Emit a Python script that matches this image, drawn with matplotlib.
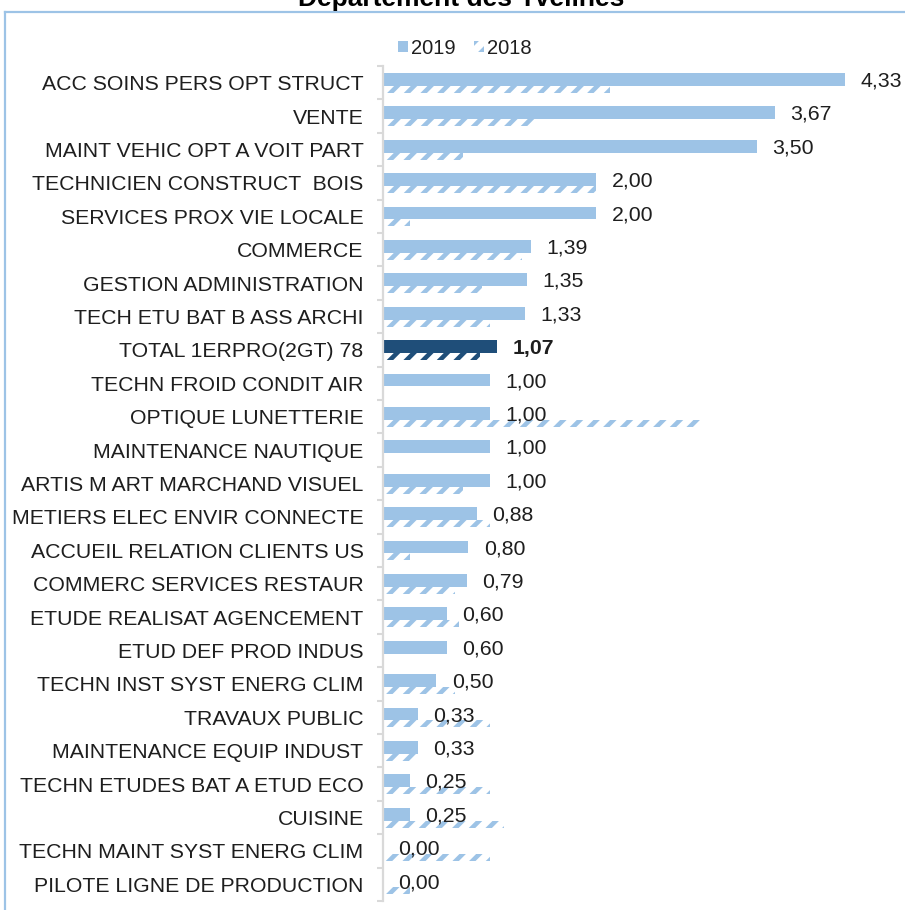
import matplotlib
matplotlib.use("Agg")
import matplotlib.pyplot as plt
from matplotlib.lines import Line2D
from matplotlib.patches import Patch
import numpy as np

plt.rcParams['font.family'] = ['Liberation Sans', 'DejaVu Sans']
plt.rcParams['hatch.linewidth'] = 3.3

# --- data ---
categories = [
    "ACC SOINS PERS OPT STRUCT", "VENTE", "MAINT VEHIC OPT A VOIT PART",
    "TECHNICIEN CONSTRUCT  BOIS", "SERVICES PROX VIE LOCALE", "COMMERCE",
    "GESTION ADMINISTRATION", "TECH ETU BAT B ASS ARCHI", "TOTAL 1ERPRO(2GT) 78",
    "TECHN FROID CONDIT AIR", "OPTIQUE LUNETTERIE", "MAINTENANCE NAUTIQUE",
    "ARTIS M ART MARCHAND VISUEL", "METIERS ELEC ENVIR CONNECTE",
    "ACCUEIL RELATION CLIENTS US", "COMMERC SERVICES RESTAUR",
    "ETUDE REALISAT AGENCEMENT", "ETUD DEF PROD INDUS",
    "TECHN INST SYST ENERG CLIM", "TRAVAUX PUBLIC", "MAINTENANCE EQUIP INDUST",
    "TECHN ETUDES BAT A ETUD ECO", "CUISINE", "TECHN MAINT SYST ENERG CLIM",
    "PILOTE LIGNE DE PRODUCTION",
]
values_2019 = [4.33, 3.67, 3.50, 2.00, 2.00, 1.39, 1.35, 1.33, 1.07, 1.00,
               1.00, 1.00, 1.00, 0.88, 0.80, 0.79, 0.60, 0.60, 0.50, 0.33,
               0.33, 0.25, 0.25, 0.00, 0.00]
values_2018 = [2.13, 1.42, 0.75, 2.00, 0.25, 1.30, 0.93, 1.00, 0.91, 0.00,
               3.00, 0.00, 0.75, 1.00, 0.25, 0.67, 0.71, 0.00, 0.67, 1.00,
               0.33, 1.00, 1.13, 1.00, 0.25]
total_label = "TOTAL 1ERPRO(2GT) 78"

light = '#9dc3e6'
navy = '#1f4e79'
txt = '#1e1e1e'
fs = 15.3

fig = plt.figure(figsize=(9.05, 9.10), dpi=100)
ax = fig.add_axes([383 / 905, 1 - 901 / 910, 1 - 383 / 905, (901 - 66) / 910])

y = np.arange(len(categories))
cols = [navy if c == total_label else light for c in categories]

ax.barh(y - 0.1, values_2019, height=0.38, color=cols, linewidth=0, zorder=2)
for yi, v, c in zip(y, values_2018, cols):
    if v > 0:
        ax.barh(yi + 0.2, v, height=0.21, facecolor='none', edgecolor=c,
                hatch='//', linewidth=0, zorder=2)

# value labels (2019)
for yi, v, c in zip(y, values_2019, categories):
    bold = c == total_label
    ax.annotate(f"{v:.2f}".replace('.', ','), xy=(v, yi - 0.05),
                xytext=(11, 0), textcoords='offset points',
                ha='left', va='center', fontsize=fs, color=txt,
                fontweight='bold' if bold else 'normal', zorder=3)

ax.set_xlim(0, 4.89)
ax.set_ylim(len(categories) - 0.5, -0.5)
ax.set_yticks(y)
ax.set_yticklabels(categories, fontsize=fs, color=txt)
ax.set_yticks(np.arange(len(categories) + 1) - 0.5, minor=True)
ax.tick_params(axis='y', which='major', length=0, pad=14)
ax.tick_params(axis='y', which='minor', length=4, width=1.5, color='#d9d9d9',
               direction='out')
ax.set_xticks([])
for s in ['top', 'right', 'bottom']:
    ax.spines[s].set_visible(False)
ax.spines['left'].set_color('#d9d9d9')
ax.spines['left'].set_linewidth(1.6)

# legend
handles = [Patch(facecolor=light, edgecolor='none'),
           Patch(facecolor='none', edgecolor=light, hatch='//', linewidth=0)]
fig.legend(handles, ['2019', '2018'], loc='center', ncol=2,
           bbox_to_anchor=(0.514, 1 - 48 / 910), frameon=False,
           fontsize=14.5, handlelength=0.5, handleheight=0.5,
           handletextpad=0.15, columnspacing=0.9, labelcolor=txt)

# title (cut at top, as in the source picture)
fig.text(0.51, 1 - 6 / 910, "Département des Yvelines", ha='center',
         va='baseline', fontsize=19, fontweight='bold', color='black')

# chart frame
fig.add_artist(Line2D([5 / 905, 5 / 905], [0, 1 - 12 / 910],
                      transform=fig.transFigure, color=light, lw=1.6))
fig.add_artist(Line2D([5 / 905, 1], [1 - 12 / 910, 1 - 12 / 910],
                      transform=fig.transFigure, color=light, lw=1.6))

fig.savefig("out.png", dpi=100)
